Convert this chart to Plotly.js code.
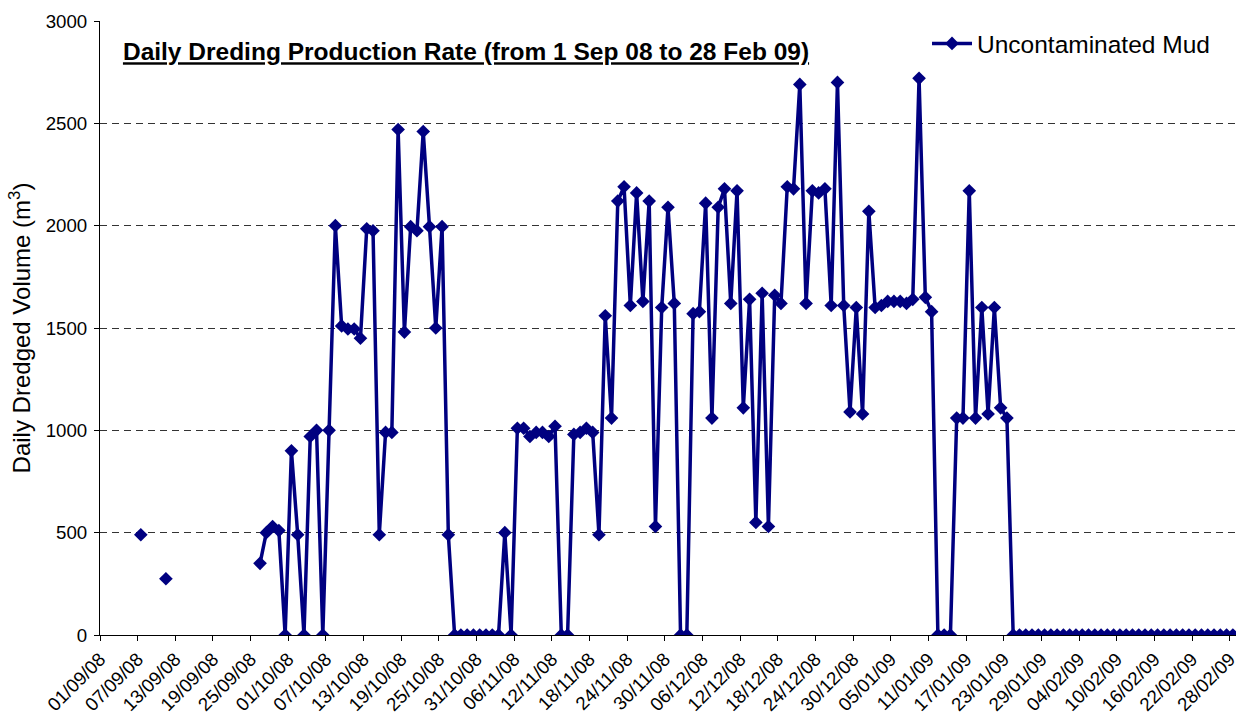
<!DOCTYPE html>
<html>
<head>
<meta charset="utf-8">
<script src="https://cdn.plot.ly/plotly-3.0.1.min.js"></script>
<style>
  html, body { margin: 0; padding: 0; background: #ffffff; }
  #chart { width: 1242px; height: 725px; }
</style>
</head>
<body>
<div id="chart"></div>
<script>
// Daily series: one value per day starting 01/09/2008 (null = no record)
const startDate = '2008-09-01';
const seriesName = 'Uncontaminated Mud';
const chartTitle = 'Daily Dreding Production Rate (from 1 Sep 08 to 28 Feb 09)';
const yTitle = 'Daily Dredged Volume (m<sup>3</sup>)';

// Sep 2008 (1..30)
const sep08 = [null, null, null, null, null, null, 490, null, null, null,
               275, null, null, null, null, null, null, null, null, null,
               null, null, null, null, null, 350, 500, 530, 510, 0];
// Oct 2008 (1..31)
const oct08 = [900, 490, 0, 970, 1000, 0, 1000, 2000, 1510, 1495,
               1495, 1450, 1985, 1975, 490, 990, 990, 2470, 1480, 1995,
               1975, 2460, 1995, 1500, 1995, 490, 0, 0, 0, 0,
               0];
// Nov 2008 (1..30)
const nov08 = [0, 0, 0, 500, 0, 1010, 1010, 970, 990, 990,
               970, 1020, 0, 0, 980, 990, 1010, 990, 490, 1560,
               1060, 2120, 2190, 1610, 2160, 1630, 2120, 530, 1600, 2090];
// Dec 2008 (1..31)
const dec08 = [1620, 0, 0, 1570, 1580, 2110, 1060, 2090, 2180, 1620,
               2170, 1110, 1640, 550, 1670, 530, 1660, 1620, 2190, 2180,
               2690, 1620, 2170, 2160, 2180, 1610, 2700, 1610, 1090, 1600,
               1080];
// Jan 2009 (1..31)
const jan09 = [2070, 1600, 1610, 1630, 1630, 1630, 1620, 1640, 2720, 1650,
               1580, 0, 0, 0, 1060, 1060, 2170, 1060, 1600, 1080,
               1600, 1110, 1060, 0, 0, 0, 0, 0, 0, 0,
               0];
// Feb 2009 (1..28)
const feb09 = [0, 0, 0, 0, 0, 0, 0, 0, 0, 0,
               0, 0, 0, 0, 0, 0, 0, 0, 0, 0,
               0, 0, 0, 0, 0, 0, 0, 0];

const yTicks = [0, 500, 1000, 1500, 2000, 2500, 3000];

const values = [].concat(sep08, oct08, nov08, dec08, jan09, feb09);
const DAY = 86400000;
const t0 = Date.UTC(2008, 8, 1);
const dates = values.map((v, i) => {
  const d = new Date(t0 + i * DAY);
  return d.toISOString().slice(0, 10) + ' 12:00';
});

const FONT = '"Liberation Sans", Arial, "DejaVu Sans", sans-serif';
const NAVY = '#000080';

const trace = {
  type: 'scatter',
  mode: 'lines+markers',
  name: seriesName,
  x: dates,
  y: values,
  connectgaps: false,
  line: { color: NAVY, width: 3.5 },
  marker: { symbol: 'diamond', size: 10.5, color: NAVY, line: { width: 0 } }
};

const layout = {
  width: 1242,
  height: 725,
  margin: { l: 100, r: 6, t: 21, b: 90, pad: 0 },
  paper_bgcolor: '#ffffff',
  plot_bgcolor: '#ffffff',
  font: { family: FONT, color: '#000000', size: 18.7 },
  title: {
    text: '<b><u>' + chartTitle + '</u></b>',
    xref: 'paper', x: 0.0202, xanchor: 'left',
    yref: 'paper', y: 0.95, yanchor: 'middle',
    font: { family: FONT, size: 24.5, color: '#000000' }
  },
  showlegend: true,
  legend: {
    x: 0.728, xanchor: 'left',
    y: 1.0, yanchor: 'top',
    itemwidth: 40,
    bgcolor: 'rgba(0,0,0,0)',
    font: { family: FONT, size: 24.5, color: '#000000' }
  },
  xaxis: {
    type: 'date',
    range: ['2008-09-01', '2009-03-01'],
    tick0: startDate,
    dtick: 6 * DAY,
    tickformat: '%d/%m/%y',
    tickangle: -45,
    ticks: 'outside',
    ticklen: 5,
    tickcolor: '#000000',
    showline: true,
    linecolor: '#000000',
    linewidth: 1,
    showgrid: false,
    zeroline: false,
    tickfont: { family: FONT, size: 18.7, color: '#000000' }
  },
  yaxis: {
    range: [0, 3000],
    tickvals: yTicks,
    ticktext: yTicks.map(String),
    ticks: 'outside',
    ticklen: 5,
    tickcolor: '#000000',
    ticklabelstandoff: 3,
    showline: true,
    linecolor: '#000000',
    linewidth: 1,
    showgrid: true,
    gridcolor: '#333333',
    gridwidth: 1,
    griddash: '7px,5px',
    zeroline: false,
    tickfont: { family: FONT, size: 18.7, color: '#000000' },
    title: {
      text: yTitle,
      font: { family: FONT, size: 24, color: '#000000' },
      standoff: 8
    }
  }
};

Plotly.newPlot('chart', [trace], layout, { displayModeBar: false, staticPlot: true });
</script>
</body>
</html>
